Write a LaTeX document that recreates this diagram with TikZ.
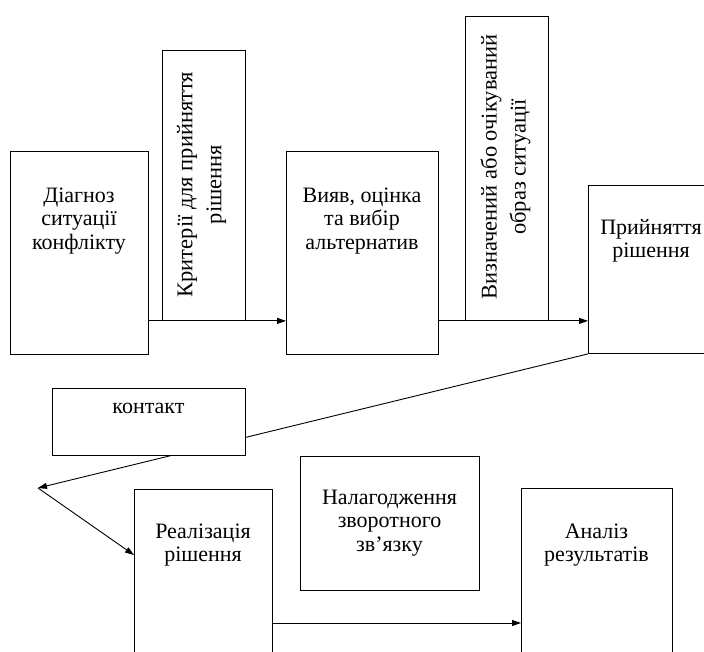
\documentclass[tikz,border=0pt]{standalone}
\usepackage{fontspec}
\setmainfont{Liberation Serif}
\usetikzlibrary{arrows.meta}
\begin{document}
\begin{tikzpicture}[x=1pt,y=-1pt,
  box/.style={draw=black, fill=white, line width=0.9pt, inner sep=0pt, anchor=north west},
  txt/.style={font=\fontsize{22}{23.5}\selectfont, align=center, inner sep=0pt, anchor=base},
  rtxt/.style={font=\fontsize{22.5}{29}\selectfont, align=center, inner sep=0pt, rotate=90},
  arr/.style={line width=0.9pt, -{Triangle[length=9pt,width=6pt]}}]
\useasboundingbox (0,0) rectangle (704,651);
\clip (0,0) rectangle (704,651);
\fill[white] (0,0) rectangle (704,651);
% upper row
\node[box, minimum width=138pt, minimum height=203pt] (A) at (10,151) {};
\node[box, minimum width=83pt, minimum height=270pt] (K) at (162,50) {};
\node[box, minimum width=152pt, minimum height=203pt] (B) at (286,151) {};
\node[box, minimum width=83pt, minimum height=304pt] (V) at (465,16) {};
\node[box, minimum width=130pt, minimum height=168pt] (P) at (588,185) {};
% base anchor = baseline of the last line
\node[txt] (At) at (79,249) {Діагноз\\ситуації\\конфлікту};
\node[rtxt] (Kt) at (201.5,184.5) {Критерії для прийняття\\рішення};
\node[txt] (Bt) at (362,249) {Вияв, оцінка\\та вибір\\альтернатив};
\node[rtxt] (Vt) at (505.5,167) {Визначений або очікуваний\\образ ситуації};
\node[txt] (Pt) at (651,257.5) {Прийняття\\рішення};
% connectors of the upper row
\coordinate (tip) at (38,488);
\draw[arr] (A.east |- K.south) -- (B.west |- K.south);
\draw[arr] (B.east |- V.south) -- (P.west |- V.south);
\draw[arr] (P.south west) -- (tip);
% lower part
\node[box, minimum width=193pt, minimum height=67pt] (C) at (52,388) {};
\node[txt] (Ct) at (148.5,413) {контакт};
\node[box, minimum width=138pt, minimum height=180pt] (R) at (134,489) {};
\node[box, minimum width=179pt, minimum height=134pt] (N) at (300,456) {};
\node[box, minimum width=151pt, minimum height=180pt] (An) at (521,488) {};
\node[txt] (Rt) at (203,561.5) {Реалізація\\рішення};
\node[txt] (Nt) at (389.5,551) {Налагодження\\зворотного\\зв’язку};
\node[txt] (Ant) at (596.5,561.5) {Аналіз\\результатів};
\coordinate (rin) at (134,555);
\coordinate (rout) at (272,623);
\draw[arr] (tip) -- (rin);
\draw[arr] (rout) -- (rout -| An.west);
\end{tikzpicture}
\end{document}
